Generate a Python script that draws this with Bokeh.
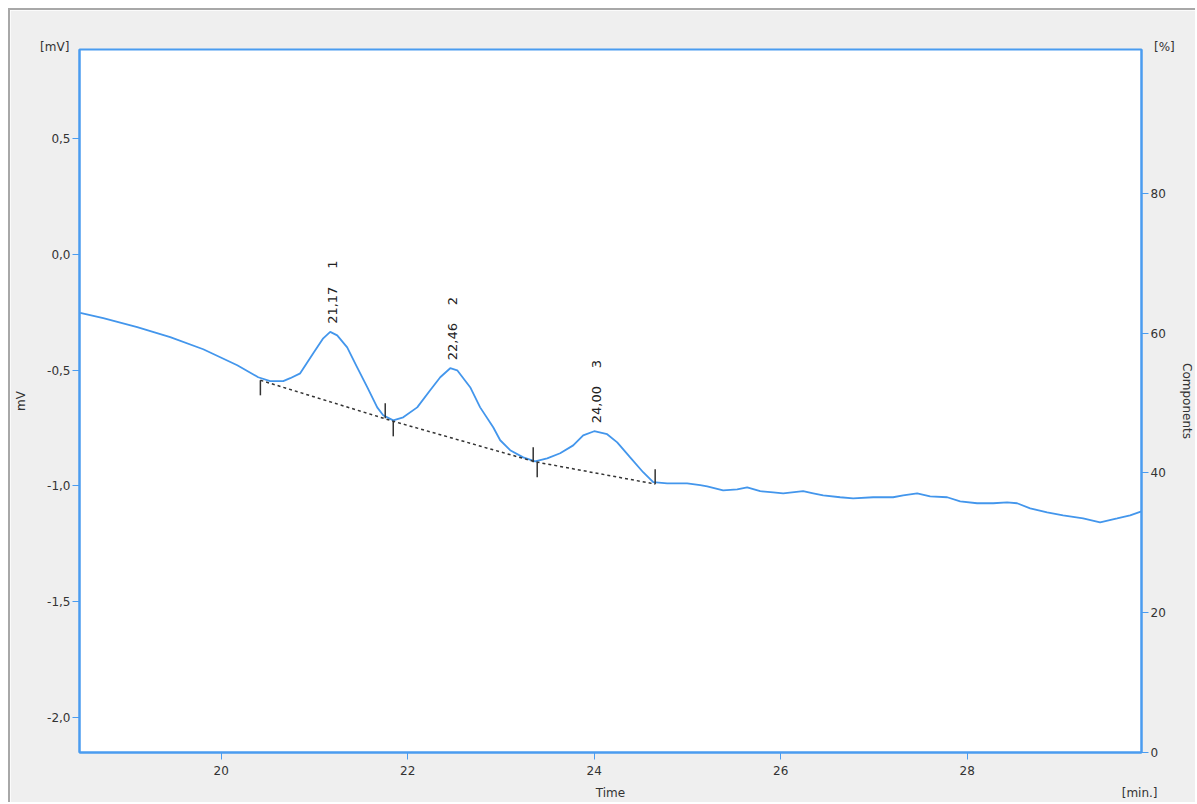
import numpy as np
from bokeh.plotting import figure
from bokeh.models import Range1d, LinearAxis, FixedTicker, CustomJSTickFormatter, ColumnDataSource
from bokeh.embed import file_html
from bokeh.resources import INLINE
from bokeh.core.properties import value

# ---------------- data ----------------
time_min = [18.488, 18.735, 19.099, 19.453, 19.807, 20.172, 20.397, 20.525, 20.665, 20.740,
            20.847, 20.987, 21.094, 21.169, 21.244, 21.351, 21.458, 21.566, 21.673, 21.737,
            21.845, 21.952, 22.102, 22.241, 22.349, 22.456, 22.531, 22.670, 22.777, 22.917,
            22.992, 23.099, 23.239, 23.367, 23.496, 23.635, 23.775, 23.882, 24.000, 24.139,
            24.247, 24.386, 24.525, 24.633, 24.783, 24.997, 25.137, 25.212, 25.383, 25.534,
            25.641, 25.780, 25.920, 26.027, 26.241, 26.349, 26.456, 26.638, 26.777, 26.992,
            27.206, 27.314, 27.464, 27.603, 27.786, 27.925, 28.107, 28.279, 28.429, 28.536,
            28.676, 28.858, 29.029, 29.244, 29.426, 29.609, 29.748, 29.870]
signal_mv = [-0.253, -0.276, -0.315, -0.358, -0.410, -0.479, -0.531, -0.548, -0.548, -0.535,
             -0.514, -0.427, -0.363, -0.335, -0.350, -0.402, -0.488, -0.574, -0.661, -0.695,
             -0.717, -0.704, -0.661, -0.587, -0.531, -0.492, -0.501, -0.574, -0.661, -0.747,
             -0.803, -0.846, -0.877, -0.894, -0.881, -0.859, -0.825, -0.782, -0.764, -0.777,
             -0.812, -0.877, -0.941, -0.984, -0.989, -0.989, -0.997, -1.002, -1.019, -1.015,
             -1.006, -1.023, -1.028, -1.032, -1.023, -1.032, -1.041, -1.049, -1.054, -1.049,
             -1.049, -1.041, -1.032, -1.045, -1.049, -1.067, -1.075, -1.075, -1.071, -1.075,
             -1.097, -1.114, -1.127, -1.140, -1.157, -1.140, -1.127, -1.110]

peak_times = [21.17, 22.46, 24.00]
peak_heights = [-0.335, -0.492, -0.764]
peak_labels = ["21,17", "22,46", "24,00"]
peak_numbers = ["1", "2", "3"]

baseline_t = [20.42, 21.845, 23.367, 24.654]
baseline_mv = [-0.544, -0.721, -0.896, -0.992]
peak_start_t = [20.42, 21.845, 23.389]
peak_start_mv = [-0.544, -0.721, -0.898]
peak_end_t = [21.759, 23.346, 24.654]
peak_end_mv = [-0.708, -0.898, -0.993]

x_ticks = [20, 22, 24, 26, 28]
y_ticks = [-2.0, -1.5, -1.0, -0.5, 0.0, 0.5]
pct_ticks = [0, 20, 40, 60, 80]

x_title = "Time"
x_unit = "[min.]"
y_title = "mV"
y_unit = "[mV]"
y2_title = "Components"
y2_unit = "[%]"

X_RANGE = (18.48, 29.87)
Y_RANGE = (-2.151, 0.884)
PCT_RANGE = (0, 100.6)

# ---------------- styles ----------------
BLUE = "#4a9cf0"
CURVE = "#4396ec"
TXT = "#333333"
FONT = "DejaVu Sans"
MARK_LEN = 0.065  # length of peak start/end marks in mV
NBSP = "\u00a0"

p = figure(width=1187, height=794, output_backend="svg", toolbar_location=None,
           x_range=Range1d(*X_RANGE), y_range=Range1d(*Y_RANGE),
           min_border_left=69, min_border_top=39, min_border_right=56, min_border_bottom=52)
p.background_fill_color = "white"
p.border_fill_color = "#efefef"
p.outline_line_color = BLUE
p.outline_line_width = 2
p.grid.visible = False
p.styles = {"margin-left": "8px", "margin-top": "8px",
            "border-top": "2px solid #a8a8a8", "border-left": "2px solid #a8a8a8"}

laxis = p.yaxis[0]
baxis = p.xaxis[0]

p.extra_y_ranges = {"pct": Range1d(*PCT_RANGE)}
raxis = LinearAxis(y_range_name="pct", axis_label=y2_title)
p.add_layout(raxis, "right")

# second bottom axis: carries the "Time" title and the "[min.]" unit on one row
x_mid = round((X_RANGE[0] + X_RANGE[1]) / 2, 3)
x_unit_pos = round(X_RANGE[1] - 0.02, 3)
b2axis = LinearAxis(ticker=FixedTicker(ticks=[x_mid, x_unit_pos]),
                    major_label_overrides={x_mid: x_title, x_unit_pos: x_unit})
p.add_layout(b2axis, "below")

# top axis: carries the "[mV]" and "[%]" unit labels at the frame corners
taxis = LinearAxis(ticker=FixedTicker(ticks=[X_RANGE[0], X_RANGE[1]]),
                   major_label_overrides={X_RANGE[0]: y_unit + NBSP * 13,
                                          X_RANGE[1]: NBSP * 12 + y2_unit})
p.add_layout(taxis, "above")

for ax in [baxis, laxis, raxis, b2axis, taxis]:
    ax.axis_line_color = BLUE
    ax.axis_line_width = 2
    ax.major_tick_line_color = BLUE
    ax.major_tick_line_width = 1
    ax.major_tick_out = 7
    ax.major_tick_in = 0
    ax.minor_tick_line_color = None
    ax.major_label_text_font = FONT
    ax.major_label_text_font_size = "12px"
    ax.major_label_text_color = TXT
    ax.axis_label_text_font = FONT
    ax.axis_label_text_font_size = "12px"
    ax.axis_label_text_font_style = "normal"
    ax.axis_label_text_color = TXT
    ax.major_label_standoff = 2

for ax in [b2axis, taxis]:
    ax.axis_line_color = None
    ax.major_tick_line_color = None
    ax.major_tick_out = 0

baxis.ticker = FixedTicker(ticks=x_ticks)
baxis.major_label_standoff = 6
b2axis.major_label_standoff = 8
taxis.major_label_standoff = -4

laxis.ticker = FixedTicker(ticks=y_ticks)
laxis.formatter = CustomJSTickFormatter(code="return tick.toFixed(1).replace('.', ',');")
laxis.axis_label = y_title
laxis.axis_label_standoff = 16
raxis.ticker = FixedTicker(ticks=pct_ticks)
raxis.axis_label_standoff = 11

# chromatogram
p.line(time_min, signal_mv, line_color=CURVE, line_width=1.8)

# baseline
p.line(baseline_t, baseline_mv, line_color="#333333", line_width=1.5, line_dash="3 3")

# peak start (downward) and end (upward) marks
ps = np.array(peak_start_mv)
pe = np.array(peak_end_mv)
p.segment(x0=peak_start_t, y0=ps, x1=peak_start_t, y1=ps - MARK_LEN, line_color="#333333", line_width=1.5)
p.segment(x0=peak_end_t, y0=pe, x1=peak_end_t, y1=pe + MARK_LEN, line_color="#333333", line_width=1.5)

# peak labels
src = ColumnDataSource(dict(x=peak_times, y=peak_heights, t=peak_labels, n=peak_numbers))
p.text(x="x", y="y", text="t", source=src, angle=np.pi / 2, text_align="left", text_baseline="middle",
       x_offset=2, y_offset=-8, text_font=value(FONT), text_font_size="13px", text_color="#222222")
p.text(x="x", y="y", text="n", source=src, angle=np.pi / 2, text_align="left", text_baseline="middle",
       x_offset=2, y_offset=-63, text_font=value(FONT), text_font_size="13px", text_color="#222222")

open("out.html", "w").write(file_html(p, INLINE))
